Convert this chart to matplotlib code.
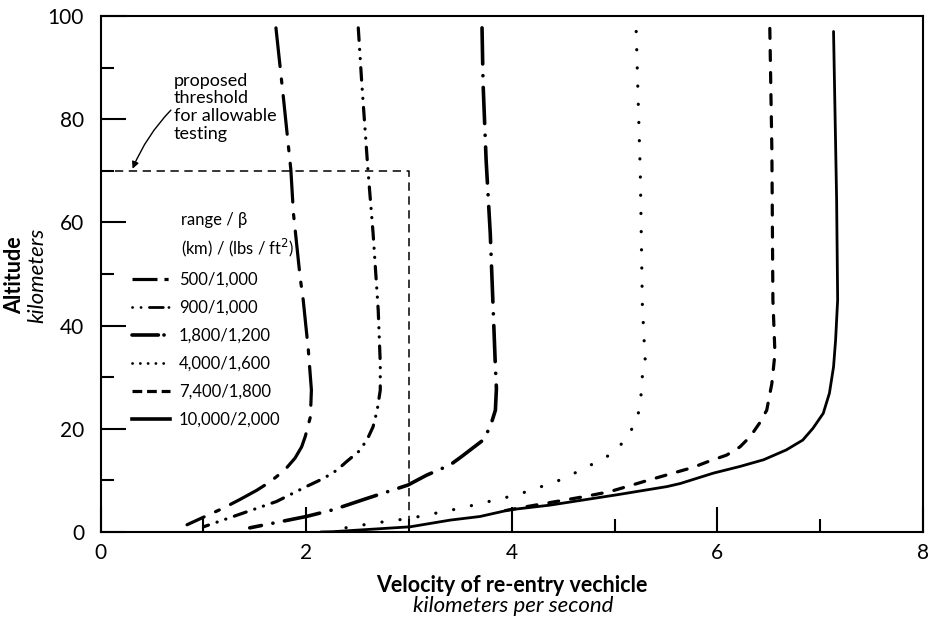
import numpy as np
import matplotlib
matplotlib.use("Agg")
import matplotlib.pyplot as plt
from matplotlib.lines import Line2D

plt.rcParams['font.family'] = ['Lato', 'DejaVu Sans']
plt.rcParams['lines.scale_dashes'] = False

# velocity (km/s) and altitude (km)
v500 = [1.705, 1.78, 1.85, 1.875, 1.94, 1.97, 2.02, 2.05, 2.04, 1.99, 1.955, 1.89, 1.79, 1.65, 1.52, 1.355, 1.19, 0.84]
a500 = [97.7, 83.7, 70.2, 61.8, 49.4, 45.0, 35.3, 27.5, 22.3, 18.5, 16.5, 14.3, 12.0, 9.75, 8.1, 6.3, 4.6, 1.4]

v900 = [2.506, 2.54, 2.60, 2.65, 2.70, 2.72, 2.72, 2.69, 2.65, 2.59, 2.51, 2.39, 2.30, 2.17, 2.00, 1.71, 1.29, 1.00]
a900 = [97.7, 87.0, 70.2, 57.9, 43.0, 32.7, 27.5, 23.6, 20.4, 17.8, 15.6, 13.6, 12.0, 10.4, 8.8, 5.9, 3.0, 1.0]

v1800 = [3.71, 3.72, 3.75, 3.79, 3.82, 3.84, 3.85, 3.84, 3.79, 3.72, 3.51, 3.40, 3.17, 2.99, 2.59, 2.26, 2.00, 1.45]
a1800 = [97.7, 87.0, 72.0, 57.9, 42.4, 32.0, 27.8, 23.6, 20.4, 17.8, 14.6, 13.0, 11.0, 9.1, 6.5, 4.3, 3.0, 0.8]

v4000 = [5.21, 5.25, 5.27, 5.29, 5.30, 5.27, 5.26, 5.24, 5.22, 5.14, 5.06, 4.95, 4.82, 4.69, 4.57, 4.43, 4.05, 3.50, 3.01, 2.65, 2.26]
a4000 = [97.0, 69.5, 44.0, 36.0, 32.5, 30.2, 27.0, 24.2, 21.6, 19.1, 16.9, 14.9, 13.5, 12.2, 11.0, 9.75, 7.2, 4.6, 2.65, 1.69, 0.4]

v7400 = [6.51, 6.53, 6.54, 6.56, 6.53, 6.48, 6.41, 6.32, 6.22, 6.09, 5.93, 5.76, 5.34, 4.95, 4.69, 4.14, 3.90]
a7400 = [97.6, 74.0, 45.0, 34.6, 28.8, 23.6, 21.1, 18.5, 16.5, 14.9, 13.8, 12.5, 10.1, 7.8, 6.8, 4.9, 4.0]

v10000 = [7.13, 7.16, 7.17, 7.15, 7.13, 7.09, 7.03, 6.93, 6.83, 6.67, 6.45, 6.22, 5.96, 5.64, 5.51, 5.02, 4.37, 3.98, 3.69, 3.40, 3.01, 2.26, 2.14]
a10000 = [97.0, 64.3, 45.0, 37.2, 32.0, 26.9, 23.0, 20.1, 17.8, 15.9, 14.0, 12.7, 11.4, 9.4, 8.8, 7.2, 5.2, 4.3, 3.0, 2.3, 1.0, 0.06, 0.0]

labels = ['500/1,000', '900/1,000', '1,800/1,200', '4,000/1,600', '7,400/1,800', '10,000/2,000']

thr_v = [0, 3, 3]
thr_a = [70, 70, 0]

fig = plt.figure(figsize=(9.29, 6.18), dpi=100)
ax = fig.add_axes([0.1084, 0.1392, 0.8851, 0.8349])

k = 'black'
ax.plot(v500, a500, color=k, lw=2.3, dashes=(28, 9, 3, 9), dash_capstyle='round')
ax.plot(v900, a900, color=k, lw=2.3, dashes=(9, 6.5, 0.1, 6.5, 0.1, 6.5), dash_capstyle='round')
ax.plot(v1800, a1800, color=k, lw=2.6, dashes=(26, 8.4, 0.1, 8.4), dash_capstyle='round')
ax.plot(v4000, a4000, color=k, lw=2.3, dashes=(0.1, 13), dash_capstyle='round')
ax.plot(v7400, a7400, color=k, lw=2.3, dashes=(7.2, 8.7), dash_capstyle='round')
ax.plot(v10000, a10000, color=k, lw=2.0, solid_capstyle='round')
ax.plot(thr_v, thr_a, color=k, lw=1.1, dashes=(6, 4))

ax.annotate('proposed\nthreshold\nfor allowable\ntesting', xy=(0.31, 70.4), xytext=(0.71, 89.0),
            fontsize=13, va='top', ha='left', linespacing=1.13,
            arrowprops=dict(arrowstyle='-|>', color=k, lw=1.0, mutation_scale=10,
                            connectionstyle='arc3,rad=0.1', shrinkA=0, shrinkB=0,
                            relpos=(0, 0.5)))

# legend
ax.text(0.78, 60.5, 'range / \u03b2', fontsize=12, va='center', ha='left')
ax.text(0.78, 55.0, '(km) / (lbs / ft$^2$)', fontsize=12, va='center', ha='left')
handles = [
    Line2D([], [], color=k, lw=2.3, dashes=(18, 5, 3, 5), dash_capstyle='butt'),
    Line2D([], [], color=k, lw=2.0, dashes=(0.1, 6, 0.1, 6, 10, 4), dash_capstyle='round'),
    Line2D([], [], color=k, lw=2.6, dashes=(19, 4, 0.1, 8), dash_capstyle='round'),
    Line2D([], [], color=k, lw=2.0, dashes=(0.1, 5.5), dash_capstyle='round'),
    Line2D([], [], color=k, lw=2.3, dashes=(7, 3.5), dash_capstyle='butt'),
    Line2D([], [], color=k, lw=2.6),
]
ax.legend(handles, labels, loc='upper left', bbox_to_anchor=(0.30, 50.4),
          bbox_transform=ax.transData, frameon=False, fontsize=12,
          handlelength=2.3, handletextpad=0.55, labelspacing=0.72,
          borderpad=0, borderaxespad=0)

ax.set_xlim(0, 8)
ax.set_ylim(0, 100)
ax.set_xticks([0, 2, 4, 6, 8])
ax.set_xticks([1, 3, 5, 7], minor=True)
ax.set_yticks([0, 20, 40, 60, 80, 100])
ax.set_yticks([10, 30, 50, 70, 90], minor=True)
ax.tick_params(which='major', direction='in', length=18, width=1.5, labelsize=15)
ax.tick_params(which='minor', direction='in', length=9.5, width=1.5)
ax.tick_params(axis='y', which='major', pad=12)
ax.tick_params(axis='x', which='major', pad=8)
for s in ax.spines.values():
    s.set_linewidth(1.5)

fig.text(0.551, 0.053, 'Velocity of re-entry vechicle', fontsize=15.5, fontweight='bold', ha='center', va='center')
fig.text(0.552, 0.019, 'kilometers per second', fontsize=16, style='italic', ha='center', va='center')
fig.text(0.016, 0.555, 'Altitude', fontsize=15.5, fontweight='bold', rotation=90, ha='center', va='center')
fig.text(0.040, 0.555, 'kilometers', fontsize=16, style='italic', rotation=90, ha='center', va='center')

fig.savefig('out.png', dpi=100)
